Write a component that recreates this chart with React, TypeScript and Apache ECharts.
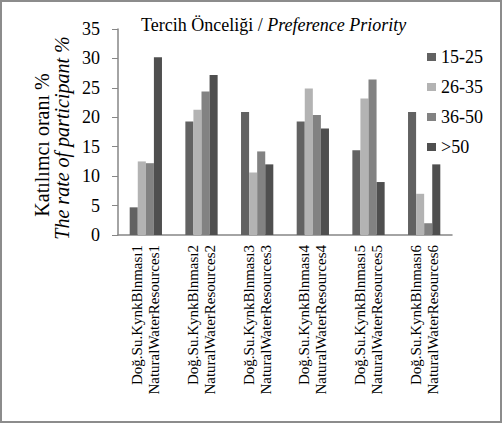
import React, { useEffect, useRef } from "react";
import * as echarts from "echarts";

const categories = [
  "Doğ.Su.KynkBlnması1\nNaturalWaterResources1",
  "Doğ.Su.KynkBlnması2\nNaturalWaterResources2",
  "Doğ.Su.KynkBlnması3\nNaturalWaterResources3",
  "Doğ.Su.KynkBlnması4\nNaturalWaterResources4",
  "Doğ.Su.KynkBlnması5\nNaturalWaterResources5",
  "Doğ.Su.KynkBlnması6\nNaturalWaterResources6",
];
const seriesNames = ["15-25", "26-35", "36-50", ">50"];
const age15to25 = [4.7, 19.3, 20.9, 19.3, 14.4, 20.9];
const age26to35 = [12.5, 21.3, 10.6, 24.9, 23.2, 7.0];
const age36to50 = [12.2, 24.4, 14.2, 20.4, 26.4, 2.0];
const age50plus = [30.2, 27.2, 12.0, 18.1, 9.0, 12.0];
const seriesValues = [age15to25, age26to35, age36to50, age50plus];
const colors = ["#626262", "#b3b3b3", "#828282", "#4f4f4f"];

const FONT = "Liberation Serif, Times New Roman, serif";

export default function App() {
  const ref = useRef<HTMLDivElement>(null);
  useEffect(() => {
    if (!ref.current) return;
    const chart = echarts.init(ref.current, null, { renderer: "svg" });
    chart.setOption({
      animation: false,
      backgroundColor: "#ffffff",
      textStyle: { fontFamily: FONT, color: "#000" },
      title: {
        text: "{n|Tercih Önceliği / }{i|Preference Priority}",
        left: 136,
        top: 11,
        textStyle: {
          fontWeight: "normal",
          rich: {
            n: { fontFamily: FONT, fontSize: 18, fontWeight: "normal", color: "#000" },
            i: { fontFamily: FONT, fontSize: 18, fontWeight: "normal", fontStyle: "italic", color: "#000" },
          },
        },
      },
      legend: {
        orient: "vertical",
        left: 422,
        top: 43,
        itemWidth: 9,
        itemHeight: 8,
        itemGap: 12,
        icon: "rect",
        data: seriesNames,
        textStyle: { fontFamily: FONT, fontSize: 18, color: "#000" },
      },
      grid: { left: 118, right: 50, top: 29, bottom: 188, containLabel: false },
      xAxis: {
        type: "category",
        data: categories,
        axisLine: { lineStyle: { color: "#868686", width: 1.5 } },
        axisTick: { show: false },
        axisLabel: {
          rotate: 90,
          interval: 0,
          margin: 10,
          fontFamily: FONT,
          fontSize: 15,
          lineHeight: 17,
          color: "#000",
        },
      },
      yAxis: {
        type: "value",
        min: 0,
        max: 35,
        interval: 5,
        splitLine: { show: false },
        axisLine: { show: true, lineStyle: { color: "#868686", width: 1.5 } },
        axisTick: { show: true, length: 6, lineStyle: { color: "#868686" } },
        axisLabel: { fontFamily: FONT, fontSize: 18, color: "#000", margin: 18 },
      },
      graphic: [
        {
          type: "rect",
          shape: { x: 1, y: 1, width: 500, height: 421 },
          style: { fill: "none", stroke: "#8c8c8c", lineWidth: 2 },
          silent: true,
        },
        {
          type: "text",
          x: 42,
          y: 145,
          rotation: Math.PI / 2,
          style: {
            text: "Katılımcı oranı %",
            font: `20px ${FONT}`,
            fill: "#000",
            align: "center",
            verticalAlign: "middle",
          },
        },
        {
          type: "text",
          x: 62,
          y: 138,
          rotation: Math.PI / 2,
          style: {
            text: "The rate of participant %",
            font: `italic 20px ${FONT}`,
            fill: "#000",
            align: "center",
            verticalAlign: "middle",
          },
        },
      ],
      series: seriesValues.map((vals, i) => ({
        name: seriesNames[i],
        type: "bar",
        data: vals,
        barGap: "0%",
        barCategoryGap: "42%",
        itemStyle: { color: colors[i] },
      })),
    });
    return () => chart.dispose();
  }, []);
  return (
    <div
      ref={ref}
      style={{ position: "absolute", left: 0, top: 0, width: 502, height: 423 }}
    />
  );
}
